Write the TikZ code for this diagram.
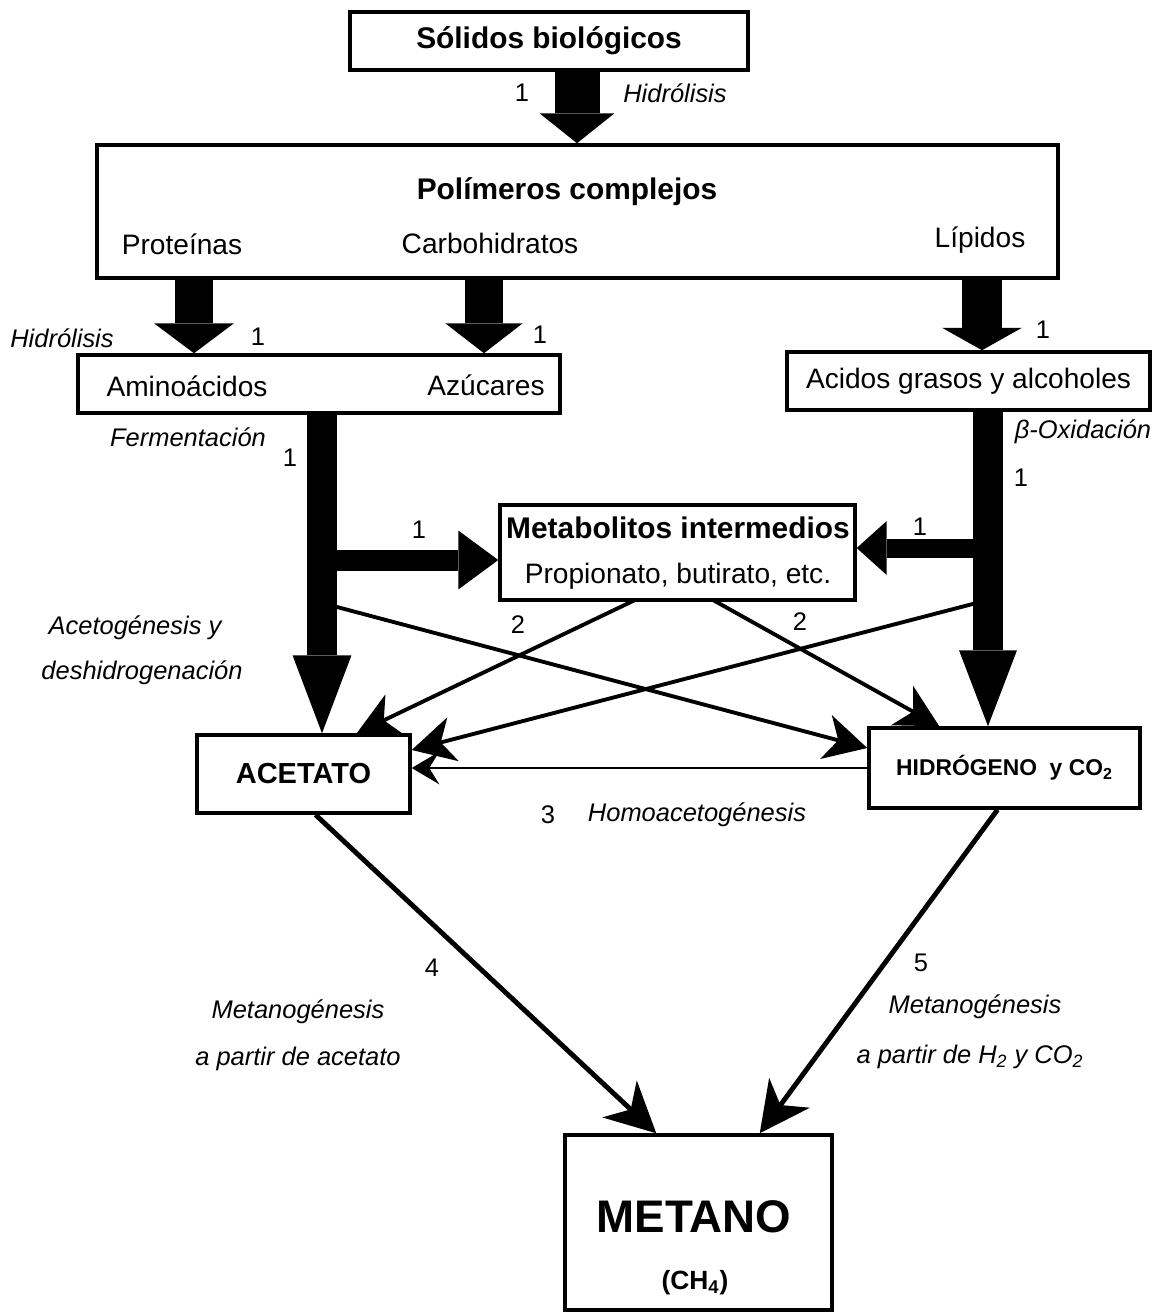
\documentclass[tikz,border=0pt]{standalone}
\usepackage{fontspec}
\setmainfont{Liberation Sans}
\usetikzlibrary{arrows.meta,calc}

\tikzset{
  caja/.style={draw, line width=2pt, inner sep=0pt},
  txt/.style={font=\fontsize{16}{19}\selectfont},
  tit/.style={font=\bfseries\fontsize{17}{20}\selectfont},
  cur/.style={font=\itshape\fontsize{14.5}{17}\selectfont},
  num/.style={font=\fontsize{14.5}{17}\selectfont},
  gruesa/.style args={#1/#2/#3}{line width=#1, -{Triangle[width=#2,length=#3,line width=0pt]}},
  fina/.style={line width=2.2pt, -{Stealth[length=0.85cm,width=0.9cm,inset=0.25cm]}},
  larga/.style={line width=2.8pt, -{Stealth[length=1.0cm,width=1.0cm,inset=0.3cm]}},
}

\begin{document}
\begin{tikzpicture}[x=0.02cm,y=-0.02cm]
    \useasboundingbox (0,0) rectangle (1165,1316);
    % cajas
    \node[caja,tit,minimum width=7.96cm,minimum height=1.16cm] (solidos) at (549,41) {Sólidos biológicos};
    \node[caja,minimum width=19.22cm,minimum height=2.66cm] (polim) at (577.5,211.5) {};
    \node[caja,minimum width=9.64cm,minimum height=1.16cm] (amino) at (319,384) {};
    \node[caja,txt,minimum width=7.26cm,minimum height=1.16cm] (acidos) at (968.5,381) {Acidos grasos y alcoholes};
    \node[caja,minimum width=7.1cm,minimum height=1.9cm] (meta) at (677.5,552.5) {};
    \node[caja,font=\bfseries\fontsize{16.5}{19}\selectfont,minimum width=4.26cm,minimum height=1.56cm] (acetato) at (303.5,774) {ACETATO};
    \node[caja,font=\bfseries\fontsize{13}{15}\selectfont,minimum width=5.42cm,minimum height=1.6cm] (hidro) at (1004.5,768) {HIDRÓGENO\ \ y CO\textsubscript{2}};
    \node[caja,minimum width=5.34cm,minimum height=3.5cm] (metano) at (698.5,1222.5) {};

    % textos dentro de las cajas
    \node[tit] (polimt) at (567,192) {Polímeros complejos};
    \node[txt] (prot) at (182,244) {Proteínas};
    \node[txt] (carb) at (490,243) {Carbohidratos};
    \node[txt] (lip) at (980,240) {Lípidos};
    \node[txt] (aminot) at (187,386) {Aminoácidos};
    \node[txt] (azuc) at (486,385) {Azúcares};
    \node[tit] (metat) at (678,528) {Metabolitos intermedios};
    \node[txt] (prop) at (678,576) {Propionato, butirato, etc.};
    \node[font=\bfseries\fontsize{26}{30}\selectfont] (metanot) at (694,1217) {METANO};
    \node[font=\bfseries\fontsize{15}{18}\selectfont] (ch4) at (695,1283) {(CH\textsubscript{4})};

    % flechas finas
    \draw[fina] (322,603) -- ($(hidro.west)+(0,-20)$);
    \draw[fina] (635,600) -- ($(acetato.north east)+(-55,0)$);
    \draw[fina] (713,600) -- ($(hidro.north west)+(72,0)$);
    \draw[fina] (988,600) -- ($(acetato.east)+(0,-24)$);
    \draw[line width=1.2pt, -{Stealth[length=0.55cm,width=0.65cm,inset=0.2cm]}] (hidro.west) -- (hidro.west -| acetato.east);
    \draw[larga] ($(acetato.south)+(12,0)$) -- ($(metano.north west)+(93,0)$);
    \draw[larga] ($(hidro.south)+(-7,0)$) -- ($(metano.north east)+(-74,0)$);

    % flechas gruesas
    \draw[gruesa=0.9cm/1.5cm/0.6cm] (solidos.south -| 577,0) -- (polim.north -| 577,0);
    \draw[gruesa=0.76cm/1.6cm/0.6cm] (polim.south -| 194,0) -- (amino.north -| 194,0);
    \draw[gruesa=0.76cm/1.55cm/0.6cm] (polim.south -| 484,0) -- (amino.north -| 484,0);
    \draw[gruesa=0.8cm/1.6cm/0.45cm] (polim.south -| 982,0) -- (acidos.north -| 982,0);
    \draw[gruesa=0.6cm/1.18cm/1.56cm] (amino.south -| 322,0) -- (acetato.north -| 322,0);
    \draw[gruesa=0.6cm/1.16cm/1.52cm] (acidos.south -| 988,0) -- (hidro.north -| 988,0);
    \draw[gruesa=0.42cm/1.18cm/0.8cm] (322,560) -- (meta.west |- 0,560);
    \draw[gruesa=0.38cm/1.08cm/0.6cm] (988,548) -- (meta.east |- 0,548);

    % etiquetas
    \node[num] (n1) at (522,93) {1};
    \node[cur] (hid1) at (675,93) {Hidrólisis};
    \node[cur] (hid2) at (62,338) {Hidrólisis};
    \node[num] (n2) at (258,337) {1};
    \node[num] (n3) at (540,335) {1};
    \node[num] (n4) at (1043,330) {1};
    \node[cur] (ferm) at (188,437) {Fermentación};
    \node[cur] (beta) at (1083,432) {β-Oxidación};
    \node[num] (n5) at (290,458) {1};
    \node[num] (n6) at (1021,478) {1};
    \node[num] (n7) at (419,530) {1};
    \node[num] (n8) at (920,527) {1};
    \node[num] (n9) at (518,625) {2};
    \node[num] (n10) at (800,622) {2};
    \node[cur] (aceto1) at (135,628) {Acetogénesis y};
    \node[cur] (aceto2) at (142,673) {deshidrogenación};
    \node[num] (n11) at (548,815) {3};
    \node[cur] (homo) at (697,815) {Homoacetogénesis};
    \node[num] (n12) at (432,968) {4};
    \node[num] (n13) at (921,963) {5};
    \node[cur] (met1) at (298,1012) {Metanogénesis};
    \node[cur] (met2) at (298,1059) {a partir de acetato};
    \node[cur] (met3) at (975,1007) {Metanogénesis};
    \node[cur] (met4) at (970,1057) {a partir de H\textsubscript{2} y CO\textsubscript{2}};
\end{tikzpicture}
\end{document}
